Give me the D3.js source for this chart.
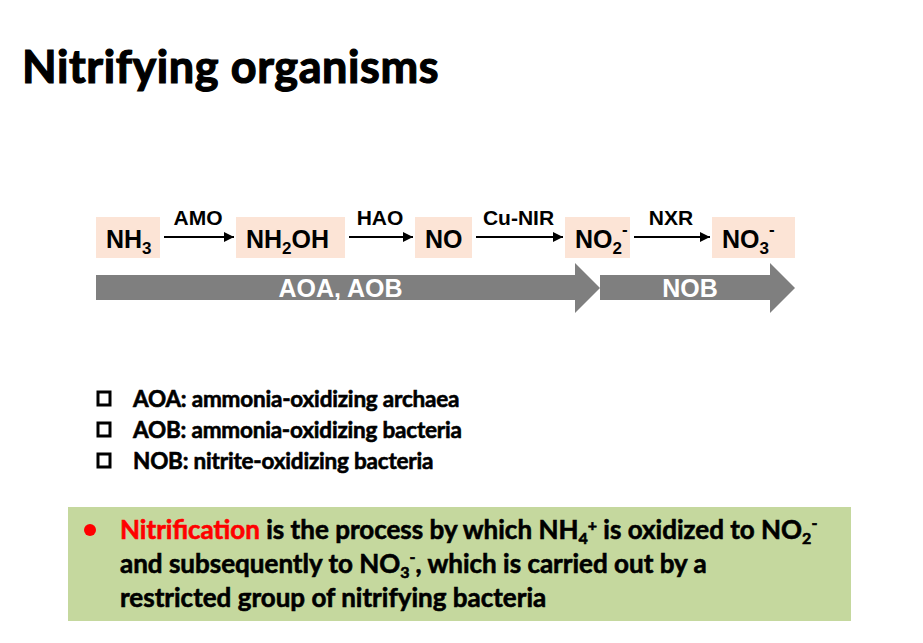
<!DOCTYPE html>
<html><head><meta charset="utf-8">
<script src="https://cdn.jsdelivr.net/npm/d3@7"></script>
<style>
body{margin:0;background:#fff}
svg text{font-family:"Liberation Sans",Arial,sans-serif}
.cal{font-family:Lato,"Open Sans",sans-serif;stroke:currentColor;stroke-width:0.6;paint-order:stroke}
</style></head><body>
<script>
// ─── Data ───
var compounds = [["NH", "3", ""], ["NH", "2", "OH"], ["NO", "", ""], ["NO", "2", "-"], ["NO", "3", "-"]];
var enzymes = ["AMO", "HAO", "Cu-NIR", "NXR"];
var groups = ["AOA, AOB", "NOB"];
var legendItems = ["AOA: ammonia-oxidizing archaea", "AOB: ammonia-oxidizing bacteria", "NOB: nitrite-oxidizing bacteria"];

var W = 923, H = 643;
var svg = d3.select("body").append("svg").attr("width", W).attr("height", H);

// ─── Layout scales ───
var boxL = d3.scaleOrdinal().domain(d3.range(5)).range([96, 236, 415, 565, 712]);
var boxR = d3.scaleOrdinal().domain(d3.range(5)).range([160, 345, 472, 630, 795]);
var grpX = d3.scaleOrdinal().domain(d3.range(2)).range([[96, 600], [600, 795]]);

svg.append("text").attr("class", "cal").attr("x", 22).attr("y", 83).style("stroke-width", 1.2)
  .attr("font-size", 45).attr("letter-spacing", 0.6).attr("font-weight", 700).text("Nitrifying organisms");

// compound boxes
var cg = svg.selectAll("g.cmp").data(compounds).enter().append("g");
cg.append("rect").attr("x", function(d, i) { return boxL(i); }).attr("y", 217)
  .attr("width", function(d, i) { return boxR(i) - boxL(i); }).attr("height", 41).attr("fill", "#fce4d6");
var ct = cg.append("text").attr("x", function(d, i) { return boxL(i) + 10; }).attr("y", 248)
  .attr("font-size", 25).attr("font-weight", 700);
ct.each(function(d) {
  var t = d3.select(this);
  t.append("tspan").text(d[0]);
  if (d[1]) t.append("tspan").attr("font-size", 17).attr("dy", 6).text(d[1]);
  if (d[2] === "-") t.append("tspan").attr("font-size", 17).attr("dy", -19).text("-");
  else if (d[2]) t.append("tspan").attr("dy", -6).text(d[2]);
});

// enzyme arrows
svg.append("defs").append("marker").attr("id", "ah").attr("viewBox", "0 0 10 10")
  .attr("refX", 10).attr("refY", 5).attr("markerWidth", 5).attr("markerHeight", 5).attr("orient", "auto")
  .append("path").attr("d", "M0,0L10,5L0,10z").attr("fill", "#000");
var eg = svg.selectAll("g.enz").data(enzymes).enter().append("g");
eg.append("line").attr("x1", function(d, i) { return boxR(i) + 4; }).attr("x2", function(d, i) { return boxL(i + 1) - 2; })
  .attr("y1", 237).attr("y2", 237).attr("stroke", "#000").attr("stroke-width", 2).attr("marker-end", "url(#ah)");
eg.append("text").attr("x", function(d, i) { return (boxR(i) + boxL(i + 1)) / 2; }).attr("y", 225)
  .attr("text-anchor", "middle").attr("font-size", 21).attr("font-weight", 700).text(function(d) { return d; });

// group arrows
var gg = svg.selectAll("g.grp").data(groups).enter().append("g");
gg.append("path").attr("fill", "#7f7f7f").attr("d", function(d, i) {
  var x0 = grpX(i)[0], x1 = grpX(i)[1], hb = x1 - 25;
  return "M" + x0 + ",275H" + hb + "V263L" + x1 + ",288L" + hb + ",313V300H" + x0 + "Z";
});
gg.append("text").attr("x", function(d, i) { return (grpX(i)[0] + grpX(i)[1] - 25) / 2 + 5; }).attr("y", 297)
  .attr("text-anchor", "middle").attr("fill", "#fff").attr("font-size", 25).attr("font-weight", 700).text(function(d) { return d; });

// legend
var lg = svg.selectAll("g.leg").data(legendItems).enter().append("g")
  .attr("transform", function(d, i) { return "translate(0," + (i * 31) + ")"; });
lg.append("rect").attr("x", 98).attr("y", 392).attr("width", 12).attr("height", 13)
  .attr("fill", "none").attr("stroke", "#000").attr("stroke-width", 3);
lg.append("text").attr("class", "cal").attr("x", 133).attr("y", 407).attr("font-size", 22.5).attr("font-weight", 700)
  .attr("letter-spacing", -0.2)
  .each(function(d) {
    var p = d.split(":");
    d3.select(this).append("tspan").text(p[0] + ":");
    d3.select(this).append("tspan").text(p[1]);
  });

// green box
svg.append("rect").attr("x", 68).attr("y", 507).attr("width", 783).attr("height", 114).attr("fill", "#c5d89e");
svg.append("circle").attr("cx", 90).attr("cy", 530).attr("r", 6).attr("fill", "#ff0000");
var fs = 26;
var l1 = svg.append("text").attr("class", "cal").attr("x", 120).attr("y", 539).attr("font-size", fs).attr("font-weight", 700);
l1.append("tspan").attr("fill", "#ff0000").style("color", "#ff0000").text("Nitrification");
l1.append("tspan").text(" is the process by which NH");
l1.append("tspan").attr("font-size", 16).attr("dy", 5).text("4");
l1.append("tspan").attr("font-size", 16).attr("dy", -13).text("+");
l1.append("tspan").attr("dy", 8).text(" is oxidized to NO");
l1.append("tspan").attr("font-size", 16).attr("dy", 5).text("2");
l1.append("tspan").attr("font-size", 16).attr("dy", -15).text("-");
var l2 = svg.append("text").attr("class", "cal").attr("x", 120).attr("y", 573).attr("font-size", fs).attr("font-weight", 700);
l2.append("tspan").text("and subsequently to NO");
l2.append("tspan").attr("font-size", 16).attr("dy", 5).text("3");
l2.append("tspan").attr("font-size", 16).attr("dy", -15).text("-");
l2.append("tspan").attr("dy", 10).text(", which is carried out by a");
svg.append("text").attr("class", "cal").attr("x", 120).attr("y", 607).attr("font-size", fs).attr("font-weight", 700)
  .text("restricted group of nitrifying bacteria");
</script>
</body></html>
